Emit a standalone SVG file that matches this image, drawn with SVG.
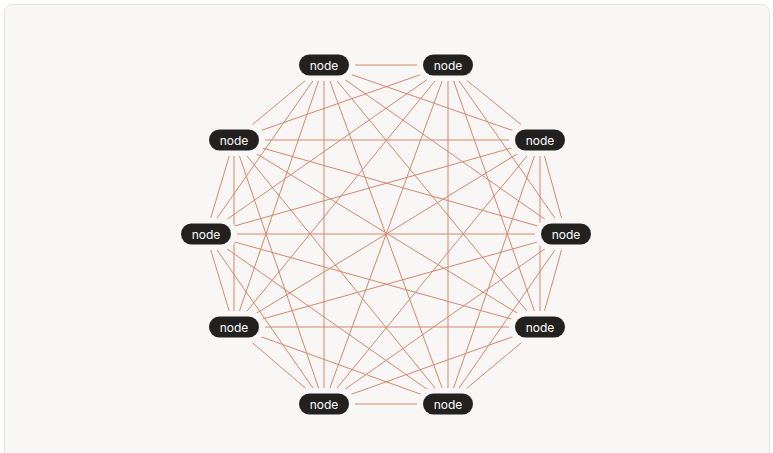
<svg xmlns="http://www.w3.org/2000/svg" width="773" height="453" viewBox="0 0 773 453">
<style>
.card{fill:#f9f7f6;stroke:#e6e2df;stroke-width:1}
.edges line{stroke:#d4876d;stroke-width:1}
.node rect{fill:#222120}
.node text{fill:#ffffff;font-family:Inter,"Liberation Sans",sans-serif;font-size:12px;font-weight:400;text-anchor:middle;dominant-baseline:central}
</style>
<defs>
<mask id="gap" maskUnits="userSpaceOnUse" x="0" y="0" width="773" height="453">
<rect x="0" y="0" width="773" height="453" fill="#fff"/>
<g fill="#000">
<rect x="293" y="49" width="62" height="32" rx="16"/>
<rect x="417" y="49" width="62" height="32" rx="16"/>
<rect x="203" y="124" width="62" height="32" rx="16"/>
<rect x="509" y="124" width="62" height="32" rx="16"/>
<rect x="175" y="218" width="62" height="32" rx="16"/>
<rect x="535" y="218" width="62" height="32" rx="16"/>
<rect x="203" y="311" width="62" height="32" rx="16"/>
<rect x="509" y="311" width="62" height="32" rx="16"/>
<rect x="293" y="388" width="62" height="32" rx="16"/>
<rect x="417" y="388" width="62" height="32" rx="16"/>
</g>
</mask>
</defs>
<rect class="card" x="4.5" y="4.5" width="765" height="470" rx="8"/>
<g class="edges" mask="url(#gap)">
<line x1="324" y1="65" x2="448" y2="65"/>
<line x1="324" y1="65" x2="234" y2="140"/>
<line x1="324" y1="65" x2="540" y2="140"/>
<line x1="324" y1="65" x2="206" y2="234"/>
<line x1="324" y1="65" x2="566" y2="234"/>
<line x1="324" y1="65" x2="234" y2="327"/>
<line x1="324" y1="65" x2="540" y2="327"/>
<line x1="324" y1="65" x2="324" y2="404"/>
<line x1="324" y1="65" x2="448" y2="404"/>
<line x1="448" y1="65" x2="234" y2="140"/>
<line x1="448" y1="65" x2="540" y2="140"/>
<line x1="448" y1="65" x2="206" y2="234"/>
<line x1="448" y1="65" x2="566" y2="234"/>
<line x1="448" y1="65" x2="234" y2="327"/>
<line x1="448" y1="65" x2="540" y2="327"/>
<line x1="448" y1="65" x2="324" y2="404"/>
<line x1="448" y1="65" x2="448" y2="404"/>
<line x1="234" y1="140" x2="540" y2="140"/>
<line x1="234" y1="140" x2="206" y2="234"/>
<line x1="234" y1="140" x2="566" y2="234"/>
<line x1="234" y1="140" x2="234" y2="327"/>
<line x1="234" y1="140" x2="540" y2="327"/>
<line x1="234" y1="140" x2="324" y2="404"/>
<line x1="234" y1="140" x2="448" y2="404"/>
<line x1="540" y1="140" x2="206" y2="234"/>
<line x1="540" y1="140" x2="566" y2="234"/>
<line x1="540" y1="140" x2="234" y2="327"/>
<line x1="540" y1="140" x2="540" y2="327"/>
<line x1="540" y1="140" x2="324" y2="404"/>
<line x1="540" y1="140" x2="448" y2="404"/>
<line x1="206" y1="234" x2="566" y2="234"/>
<line x1="206" y1="234" x2="234" y2="327"/>
<line x1="206" y1="234" x2="540" y2="327"/>
<line x1="206" y1="234" x2="324" y2="404"/>
<line x1="206" y1="234" x2="448" y2="404"/>
<line x1="566" y1="234" x2="234" y2="327"/>
<line x1="566" y1="234" x2="540" y2="327"/>
<line x1="566" y1="234" x2="324" y2="404"/>
<line x1="566" y1="234" x2="448" y2="404"/>
<line x1="234" y1="327" x2="540" y2="327"/>
<line x1="234" y1="327" x2="324" y2="404"/>
<line x1="234" y1="327" x2="448" y2="404"/>
<line x1="540" y1="327" x2="324" y2="404"/>
<line x1="540" y1="327" x2="448" y2="404"/>
<line x1="324" y1="404" x2="448" y2="404"/>
</g>
<g id="n0" class="node"><rect x="299" y="54.5" width="50" height="21" rx="10.5"/><text x="324" y="65">node</text></g>
<g id="n1" class="node"><rect x="423" y="54.5" width="50" height="21" rx="10.5"/><text x="448" y="65">node</text></g>
<g id="n2" class="node"><rect x="209" y="129.5" width="50" height="21" rx="10.5"/><text x="234" y="140">node</text></g>
<g id="n3" class="node"><rect x="515" y="129.5" width="50" height="21" rx="10.5"/><text x="540" y="140">node</text></g>
<g id="n4" class="node"><rect x="181" y="223.5" width="50" height="21" rx="10.5"/><text x="206" y="234">node</text></g>
<g id="n5" class="node"><rect x="541" y="223.5" width="50" height="21" rx="10.5"/><text x="566" y="234">node</text></g>
<g id="n6" class="node"><rect x="209" y="316.5" width="50" height="21" rx="10.5"/><text x="234" y="327">node</text></g>
<g id="n7" class="node"><rect x="515" y="316.5" width="50" height="21" rx="10.5"/><text x="540" y="327">node</text></g>
<g id="n8" class="node"><rect x="299" y="393.5" width="50" height="21" rx="10.5"/><text x="324" y="404">node</text></g>
<g id="n9" class="node"><rect x="423" y="393.5" width="50" height="21" rx="10.5"/><text x="448" y="404">node</text></g>
</svg>
